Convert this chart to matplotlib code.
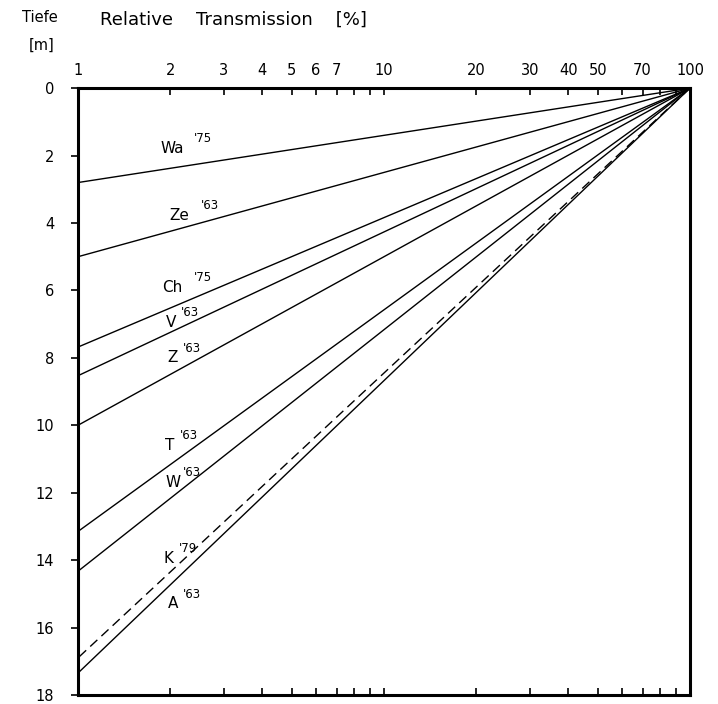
import matplotlib
matplotlib.use("Agg")
import matplotlib.pyplot as plt
import numpy as np

# Depth [m] at which each line reaches 1 % relative transmission
lakes = ["Wa", "Ze", "Ch", "V", "Z", "T", "W", "K", "A"]
years = ["'75", "'63", "'75", "'63", "'63", "'63", "'63", "'79", "'63"]
depth_at_1pct = [2.8, 5.0, 7.68, 8.53, 10.0, 13.15, 14.33, 16.9, 17.35]
dashed = [False, False, False, False, False, False, False, True, False]

# label anchors (transmission %, depth m)
label_x = [2.04, 2.15, 2.04, 2.02, 2.04, 2.0, 2.04, 1.98, 2.04]
label_y = [1.78, 3.78, 5.9, 6.95, 8.0, 10.6, 11.7, 13.95, 15.3]

x_labels = [1, 2, 3, 4, 5, 6, 7, 10, 20, 30, 40, 50, 70, 100]
x_minor = [8, 9, 60, 80, 90]
y_ticks = list(range(0, 19, 2))

fig = plt.figure(figsize=(7.18, 7.04), dpi=100)
ax = fig.add_axes([0.1086, 0.0128, 0.8524, 0.862])

for name, d, dash in zip(lakes, depth_at_1pct, dashed):
    ax.plot([100, 1], [0, d], color="black", lw=1.0,
            linestyle=(0, (7, 4)) if dash else "-")

for name, yr, lx, ly in zip(lakes, years, label_x, label_y):
    ax.text(lx, ly, name, ha="center", va="center", fontsize=11)
    ax.annotate(yr, (lx, ly), xytext=(len(name) * 8 - 1, 7),
                textcoords="offset points", ha="left", va="center", fontsize=8.5)

ax.set_xscale("log")
ax.set_xlim(1, 100)
ax.set_ylim(18, 0)
ax.xaxis.set_ticks_position("both")
ax.set_xticks(x_labels)
ax.set_xticklabels([str(v) for v in x_labels])
ax.set_xticks(x_minor, minor=True)
ax.tick_params(axis="x", which="both", top=True, bottom=True, labeltop=True,
               labelbottom=False, direction="in", length=5, width=1.2,
               labelsize=10.5, pad=7)
ax.set_yticks(y_ticks)
ax.tick_params(axis="y", direction="out", length=5, width=1.2, labelsize=10.5,
               right=False, pad=12)
for s in ax.spines.values():
    s.set_linewidth(2.2)

fig.text(0.031, 0.975, "Tiefe", fontsize=10.5, ha="left", va="center")
fig.text(0.040, 0.936, "[m]", fontsize=10.5, ha="left", va="center")
fig.text(0.139, 0.972, "Relative    Transmission    [%]", fontsize=13,
         ha="left", va="center")

fig.savefig("out.png", dpi=100)
